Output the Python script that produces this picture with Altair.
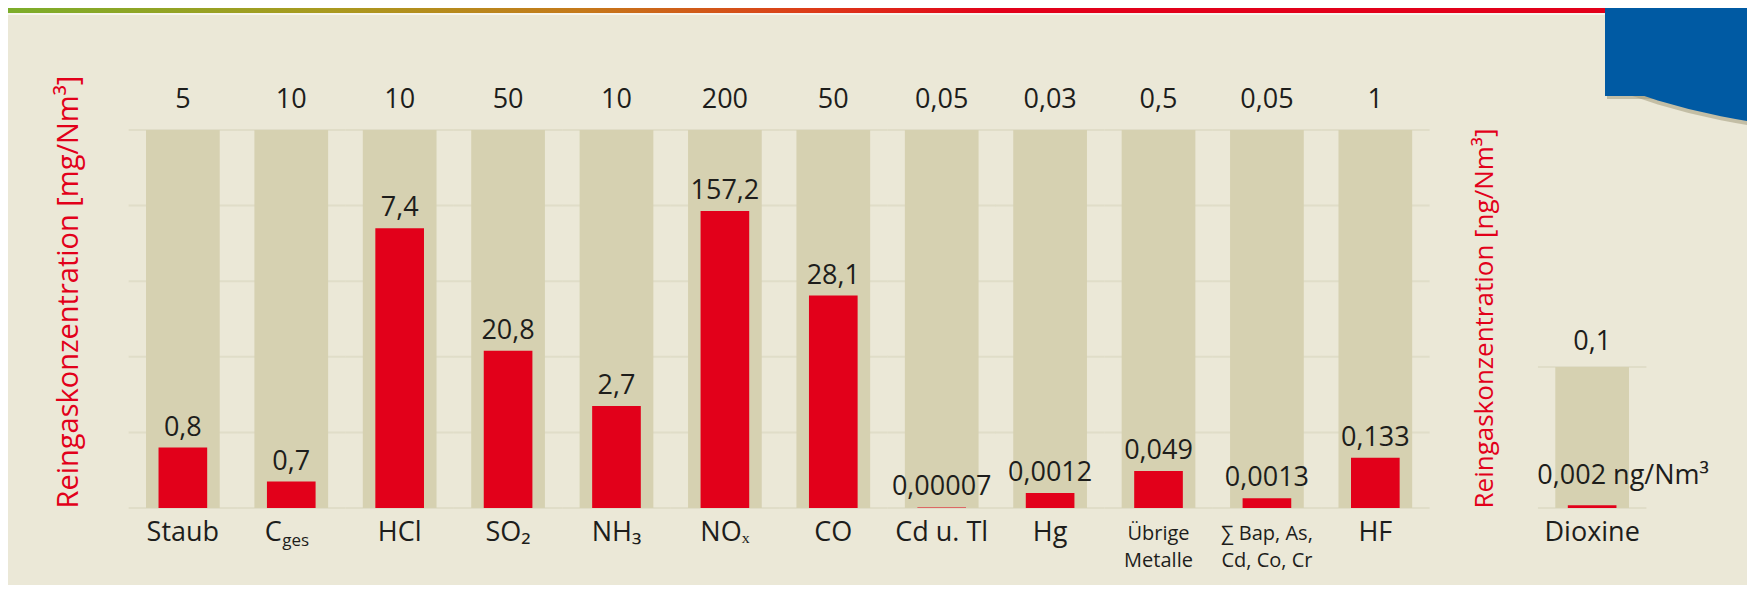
import altair as alt
import pandas as pd

# ---------------- data ----------------
names = ["Staub", "C", "HCl", "SO₂", "NH₃", "NOₓ", "CO", "Cd u. Tl", "Hg",
         "Übrige\nMetalle", "∑ Bap, As,\nCd, Co, Cr", "HF"]
subscripts = ["", "ges", "", "", "", "", "", "", "", "", "", ""]
limits = [5, 10, 10, 50, 10, 200, 50, 0.05, 0.03, 0.5, 0.05, 1]
values = [0.8, 0.7, 7.4, 20.8, 2.7, 157.2, 28.1, 0.00007, 0.0012, 0.049, 0.0013, 0.133]
limit_labels = ["5", "10", "10", "50", "10", "200", "50", "0,05", "0,03", "0,5", "0,05", "1"]
value_labels = ["0,8", "0,7", "7,4", "20,8", "2,7", "157,2", "28,1", "0,00007", "0,0012",
                "0,049", "0,0013", "0,133"]
grid_levels = [0, 0.2, 0.4, 0.6, 0.8, 1.0]

diox_names = ["Dioxine"]
diox_limits = [0.1]
diox_values = [0.002]
diox_limit_labels = ["0,1"]
diox_value_labels = ["0,002 ng/Nm³"]
diox_grid_levels = [0, 0.1]
diox_axis_max = 0.268

# ---------------- style ----------------
FONT = "Open Sans"
RED = "#e2001a"
TEXT = "#1d1d1b"
BG = "#ebe8d7"
BAR_BG = "#d6d1b1"
GRID = "#dcd8c2"
BLUE = "#005aa3"

W, H = 1500, 378

main = pd.DataFrame({"name": names, "sub": subscripts, "limit": limits, "value": values,
                     "limit_label": limit_labels, "value_label": value_labels})
grid_main = pd.DataFrame([(n, g) for n in names for g in grid_levels], columns=["name", "level"])
diox = pd.DataFrame({"name": diox_names, "limit": diox_limits, "value": diox_values,
                     "limit_label": diox_limit_labels, "value_label": diox_value_labels})
grid_diox = pd.DataFrame([(n, g) for n in diox_names for g in diox_grid_levels],
                         columns=["name", "level"])

xscale = alt.Scale(domain=names + [" "] + diox_names, paddingInner=0.32,
                   paddingOuter=0.0784, align=1, round=False)
X = alt.X("name:N", scale=xscale, axis=None)

ys_main = alt.Scale(domain=[0, 1], nice=False, zero=True)
ax_main = alt.Axis(title="Reingaskonzentration [mg/Nm³]", orient="left", labels=False,
                   ticks=False, domain=False, grid=False, minExtent=0, maxExtent=0,
                   titleColor=RED, titleFont=FONT, titleFontSize=29, titleFontWeight="normal",
                   titlePadding=46, titleAnchor="start")
ys_diox = alt.Scale(domain=[0, diox_axis_max], nice=False, zero=True)
ax_diox = alt.Axis(title="Reingaskonzentration [ng/Nm³]", orient="left", offset=-1399,
                   labels=False, ticks=False, domain=False, grid=False, minExtent=0, maxExtent=0,
                   titleColor=RED, titleFont=FONT, titleFontSize=26, titleFontWeight="normal",
                   titlePadding=31, titleAnchor="start")

step = W / (len(names) + 2 - 0.32 + 2 * 0.0784)

# ---------------- main panel ----------------
base = alt.Chart(main).transform_calculate(
    bg="datum.limit / datum.limit", ratio="datum.value / datum.limit")

g1 = alt.Chart(grid_main).mark_tick(size=step, thickness=2, color=GRID).encode(
    x=X, y=alt.Y("level:Q", scale=ys_main, axis=ax_main))
b1 = base.mark_bar(color=BAR_BG).encode(x=X, y=alt.Y("bg:Q", scale=ys_main, axis=ax_main))
r1 = base.mark_bar(color=RED, width=alt.RelativeBandSize(0.66)).encode(
    x=X, y=alt.Y("ratio:Q", scale=ys_main, axis=ax_main))
t_lim = base.mark_text(font=FONT, fontSize=27, color=TEXT, baseline="alphabetic", dy=-22).encode(
    x=X, y=alt.Y("bg:Q", scale=ys_main, axis=ax_main), text="limit_label:N")
t_val = base.mark_text(font=FONT, fontSize=27, color=TEXT, baseline="alphabetic", dy=-12).encode(
    x=X, y=alt.Y("ratio:Q", scale=ys_main, axis=ax_main), text="value_label:N")
t_lab = base.transform_filter("indexof(datum.name, '\\n') < 0 && datum.sub == ''").mark_text(
    font=FONT, fontSize=27, color=TEXT, baseline="alphabetic", dy=33).encode(
    x=X, y=alt.datum(0), text="name:N")
t_lab2 = base.transform_filter("indexof(datum.name, '\\n') >= 0").mark_text(
    font=FONT, fontSize=20, color=TEXT, baseline="alphabetic", dy=32, lineBreak="\n",
    lineHeight=27).encode(x=X, y=alt.datum(0), text="name:N")
t_labc = base.transform_filter("datum.sub != ''").mark_text(
    font=FONT, fontSize=27, color=TEXT, baseline="alphabetic", dy=33, dx=-18).encode(
    x=X, y=alt.datum(0), text="name:N")
t_sub = base.transform_filter("datum.sub != ''").mark_text(
    font=FONT, fontSize=17, color=TEXT, baseline="alphabetic", dy=38, dx=-9, align="left").encode(
    x=X, y=alt.datum(0), text="sub:N")
main_layer = alt.layer(g1, b1, r1, t_lim, t_val, t_lab, t_lab2, t_labc, t_sub)

# ---------------- dioxine panel ----------------
dbase = alt.Chart(diox)
g2 = alt.Chart(grid_diox).mark_tick(size=step, thickness=2, color=GRID).encode(
    x=X, y=alt.Y("level:Q", scale=ys_diox, axis=ax_diox))
b2 = dbase.mark_bar(color=BAR_BG).encode(x=X, y=alt.Y("limit:Q", scale=ys_diox, axis=ax_diox))
r2 = dbase.mark_bar(color=RED, width=alt.RelativeBandSize(0.66)).encode(
    x=X, y=alt.Y("value:Q", scale=ys_diox, axis=ax_diox))
d_lim = dbase.mark_text(font=FONT, fontSize=27, color=TEXT, baseline="alphabetic", dy=-17).encode(
    x=X, y=alt.Y("limit:Q", scale=ys_diox, axis=ax_diox), text="limit_label:N")
d_val = dbase.mark_text(font=FONT, fontSize=27, color=TEXT, baseline="alphabetic", dy=-21,
                        dx=31).encode(
    x=X, y=alt.Y("value:Q", scale=ys_diox, axis=ax_diox), text="value_label:N")
d_lab = dbase.mark_text(font=FONT, fontSize=27, color=TEXT, baseline="alphabetic", dy=33).encode(
    x=X, y=alt.datum(0), text="name:N")
diox_layer = alt.layer(g2, b2, r2, d_lim, d_val, d_lab)

# ---------------- page decoration (header strip, corner badge) ----------------
one = pd.DataFrame({"d": [0]})
TWO_PI = 6.283185
strip = alt.Chart(one).mark_rect(color=alt.Gradient(
    gradient="linear", x1=0, x2=1, y1=0, y2=0,
    stops=[alt.GradientStop(color="#7cad2a", offset=0),
           alt.GradientStop(color="#a99a1f", offset=0.2),
           alt.GradientStop(color="#c5791a", offset=0.36),
           alt.GradientStop(color="#dc3d18", offset=0.5),
           alt.GradientStop(color=RED, offset=0.62),
           alt.GradientStop(color=RED, offset=1)])).encode(
    x=alt.value(-121), x2=alt.value(1476), y=alt.value(-122), y2=alt.value(-117))
white_line = alt.Chart(one).mark_rect(color="#f7f5ee").encode(
    x=alt.value(-121), x2=alt.value(1476), y=alt.value(-117), y2=alt.value(-115))
shadow = alt.Chart(one).mark_arc(radius=662, theta=0, theta2=TWO_PI, color="#a39a7c",
                                 opacity=0.55).encode(x=alt.value(1721), y=alt.value(-659))
circle = alt.Chart(one).mark_arc(radius=662, theta=0, theta2=TWO_PI, color=BLUE,
                                 opacity=1).encode(x=alt.value(1721), y=alt.value(-663))
badge_rect_sh = alt.Chart(one).mark_rect(color="#a39a7c", opacity=0.55).encode(
    x=alt.value(1478), x2=alt.value(1620), y=alt.value(-122), y2=alt.value(-31))
badge_rect = alt.Chart(one).mark_rect(color=BLUE).encode(
    x=alt.value(1476), x2=alt.value(1620), y=alt.value(-122), y2=alt.value(-34))
cover = alt.Chart(one).mark_rect(color=BG).encode(
    x=alt.value(1300), x2=alt.value(1476), y=alt.value(-122), y2=alt.value(-38))
deco = alt.layer(shadow, badge_rect_sh, circle, badge_rect, cover, strip, white_line)

chart = alt.layer(deco, main_layer, diox_layer).resolve_scale(y="independent").properties(
    width=W, height=H,
    autosize=alt.AutoSizeParams(type="none"),
    padding={"left": 121, "top": 122, "right": 118, "bottom": 77},
).configure(background=BG, font=FONT).configure_view(stroke=None)

chart.save("out.html", embed_options={"renderer": "svg", "actions": False})
